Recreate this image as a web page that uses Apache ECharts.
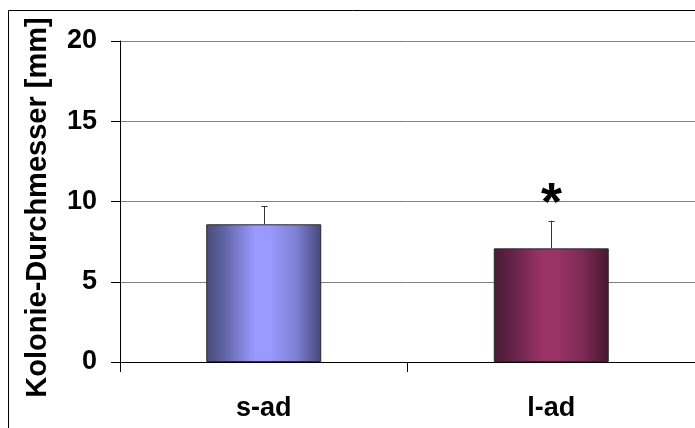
<!DOCTYPE html>
<html>
<head>
<meta charset="utf-8">
<style>
  html, body { margin: 0; padding: 0; background: #ffffff; }
  #chart { width: 695px; height: 428px; }
</style>
<script src="https://cdn.jsdelivr.net/npm/echarts@6/dist/echarts.min.js"></script>
</head>
<body>
<div id="chart"></div>
<script>
// Colony diameter per group, mean and upper standard deviation
var categories = ['s-ad', 'l-ad'];
var means = [8.58, 7.08];
var errors = [1.14, 1.72];
var significance = ['', '*'];
var yTicks = [0, 5, 10, 15, 20];

var FONT = 'Arial, "Liberation Sans", sans-serif';

function barGradient(edgeL, mid, peak, shade, edgeR) {
  return new echarts.graphic.LinearGradient(0, 0, 1, 0, [
    { offset: 0, color: edgeL },
    { offset: 0.12, color: mid },
    { offset: 0.42, color: peak },
    { offset: 0.55, color: peak },
    { offset: 0.78, color: shade },
    { offset: 1, color: edgeR }
  ]);
}

var barColors = [
  barGradient('#4a4c7e', '#5a5d98', '#9999ff', '#7e81d3', '#45477a'),
  barGradient('#4a1a35', '#5c2143', '#993366', '#7c2a54', '#441830')
];

var chart = echarts.init(document.getElementById('chart'), null, { renderer: 'canvas' });

chart.setOption({
  animation: false,
  backgroundColor: '#ffffff',
  graphic: [{
    type: 'rect',
    shape: { x: 8.5, y: 10.5, width: 720, height: 440 },
    style: { fill: 'none', stroke: '#000000', lineWidth: 1 },
    silent: true
  }],
  grid: { left: 120, top: 41, right: -1, bottom: 66, containLabel: false },
  xAxis: {
    type: 'category',
    data: categories,
    boundaryGap: true,
    axisLine: { lineStyle: { color: '#000000', width: 1 } },
    axisTick: { show: true, alignWithLabel: false, length: 10, lineStyle: { color: '#000000' } },
    axisLabel: { color: '#000000', fontFamily: FONT, fontWeight: 'bold', fontSize: 27, margin: 33 }
  },
  yAxis: {
    type: 'value',
    min: yTicks[0],
    max: yTicks[yTicks.length - 1],
    interval: yTicks[1] - yTicks[0],
    name: 'Kolonie-Durchmesser [mm]',
    nameLocation: 'middle',
    nameRotate: 90,
    nameGap: 68,
    nameTextStyle: { color: '#000000', fontFamily: FONT, fontWeight: 'bold', fontSize: 29, padding: [0, 12, 0, 0] },
    axisLine: { show: true, lineStyle: { color: '#000000', width: 1 } },
    axisTick: { show: true, length: 9, lineStyle: { color: '#000000' } },
    axisLabel: { color: '#000000', fontFamily: FONT, fontWeight: 'bold', fontSize: 27, margin: 23 },
    splitLine: { show: true, lineStyle: { color: '#808080', width: 1 } }
  },
  series: [
    {
      type: 'bar',
      barWidth: '40%',
      data: means.map(function (v, i) {
        return {
          value: v,
          itemStyle: { color: barColors[i], borderColor: '#2a2a2a', borderWidth: 1 }
        };
      }),
      z: 2
    },
    {
      // upper error whiskers with caps, plus significance marks
      type: 'custom',
      data: means.map(function (v, i) { return [i, v, v + errors[i], significance[i]]; }),
      renderItem: function (params, api) {
        var x = api.value(0);
        var base = api.coord([x, api.value(1)]);
        var top = api.coord([x, api.value(2)]);
        var cx = Math.round(base[0]) + 0.5;
        var children = [
          { type: 'line', shape: { x1: cx, y1: base[1], x2: cx, y2: top[1] },
            style: { stroke: '#333333', lineWidth: 1 } },
          { type: 'line', shape: { x1: cx - 3, y1: Math.round(top[1]) + 0.5, x2: cx + 3, y2: Math.round(top[1]) + 0.5 },
            style: { stroke: '#333333', lineWidth: 1 } }
        ];
        var mark = significance[params.dataIndex];
        if (mark) {
          children.push({
            type: 'text',
            style: {
              text: mark, x: cx, y: top[1] - 16,
              fill: '#000000', font: 'bold 54px ' + FONT,
              align: 'center', verticalAlign: 'middle'
            }
          });
        }
        return { type: 'group', children: children };
      },
      z: 3
    }
  ]
});
</script>
</body>
</html>
